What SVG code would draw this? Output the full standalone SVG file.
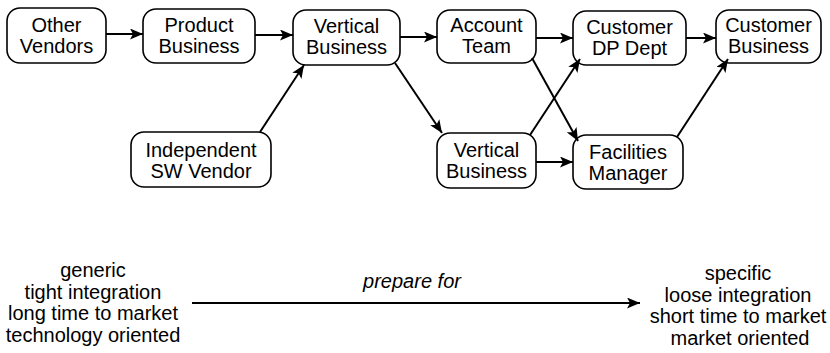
<svg xmlns="http://www.w3.org/2000/svg" width="830" height="353" viewBox="0 0 830 353">
  <style>
    .box { fill: #fff; stroke: #000; stroke-width: 1.6; }
    .lbl { font-family: "Liberation Sans", Arial, sans-serif; font-size: 20px; fill: #000; text-anchor: middle; }
    .note { font-family: "Liberation Sans", Arial, sans-serif; font-size: 20px; fill: #000; text-anchor: middle; }
    .edge { stroke: #000; stroke-width: 2; fill: none; marker-end: url(#arrow); }
  </style>
  <defs>
    <marker id="arrow" viewBox="0 0 13 11" refX="13" refY="5.5" markerWidth="13" markerHeight="11" markerUnits="userSpaceOnUse" orient="auto">
      <path d="M0,0 L13,5.5 L0,11 L3,5.5 Z" fill="#000"/>
    </marker>
  </defs>

  <g id="other-vendors">
    <rect class="box" x="7" y="8" width="99" height="55" rx="13"/>
    <text class="lbl" x="56.5" y="32">Other</text>
    <text class="lbl" x="56.5" y="53">Vendors</text>
  </g>
  <g id="product-business">
    <rect class="box" x="143" y="9" width="112" height="54" rx="13"/>
    <text class="lbl" x="199" y="32">Product</text>
    <text class="lbl" x="199" y="53">Business</text>
  </g>
  <g id="vertical-business-top">
    <rect class="box" x="293" y="10" width="107" height="55" rx="13"/>
    <text class="lbl" x="346.5" y="33">Vertical</text>
    <text class="lbl" x="346.5" y="54">Business</text>
  </g>
  <g id="independent-sw-vendor">
    <rect class="box" x="131" y="132" width="140" height="55" rx="13"/>
    <text class="lbl" x="201" y="157">Independent</text>
    <text class="lbl" x="201" y="178">SW Vendor</text>
  </g>
  <g id="account-team">
    <rect class="box" x="437" y="10" width="99" height="53" rx="13"/>
    <text class="lbl" x="486.5" y="32">Account</text>
    <text class="lbl" x="486.5" y="53">Team</text>
  </g>
  <g id="vertical-business-bottom">
    <rect class="box" x="437" y="133" width="99" height="55" rx="13"/>
    <text class="lbl" x="486.5" y="157">Vertical</text>
    <text class="lbl" x="486.5" y="178">Business</text>
  </g>
  <g id="customer-dp-dept">
    <rect class="box" x="573" y="11" width="113" height="54" rx="13"/>
    <text class="lbl" x="629.5" y="34">Customer</text>
    <text class="lbl" x="629.5" y="55">DP Dept</text>
  </g>
  <g id="facilities-manager">
    <rect class="box" x="573" y="135" width="110" height="54" rx="13"/>
    <text class="lbl" x="628" y="159">Facilities</text>
    <text class="lbl" x="628" y="180">Manager</text>
  </g>
  <g id="customer-business">
    <rect class="box" x="716" y="10" width="105" height="53" rx="13"/>
    <text class="lbl" x="768.5" y="32">Customer</text>
    <text class="lbl" x="768.5" y="53">Business</text>
  </g>

  <g id="connectors">
    <line class="edge" x1="106" y1="34" x2="143" y2="34"/>
    <line class="edge" x1="255" y1="35" x2="293" y2="35"/>
    <line class="edge" x1="400" y1="37" x2="437" y2="37"/>
    <line class="edge" x1="536" y1="38" x2="573" y2="38"/>
    <line class="edge" x1="686" y1="38" x2="716" y2="38"/>
    <line class="edge" x1="260" y1="132" x2="304" y2="65"/>
    <line class="edge" x1="395" y1="63" x2="442" y2="133"/>
    <line class="edge" x1="532" y1="58" x2="578" y2="141"/>
    <line class="edge" x1="530" y1="135" x2="580" y2="59"/>
    <line class="edge" x1="536" y1="162" x2="573" y2="162"/>
    <line class="edge" x1="677" y1="137" x2="728" y2="59"/>
    <line class="edge" x1="192" y1="303" x2="640" y2="303"/>
  </g>

  <g id="left-notes">
    <text class="note" x="93" y="277">generic</text>
    <text class="note" x="93" y="299">tight integration</text>
    <text class="note" x="93" y="320">long time to market</text>
    <text class="note" x="93" y="342">technology oriented</text>
  </g>
  <text class="note" x="412" y="288" font-style="italic">prepare for</text>
  <g id="right-notes">
    <text class="note" x="738" y="280">specific</text>
    <text class="note" x="738" y="302">loose integration</text>
    <text class="note" x="738" y="323">short time to market</text>
    <text class="note" x="740" y="345">market oriented</text>
  </g>
</svg>
